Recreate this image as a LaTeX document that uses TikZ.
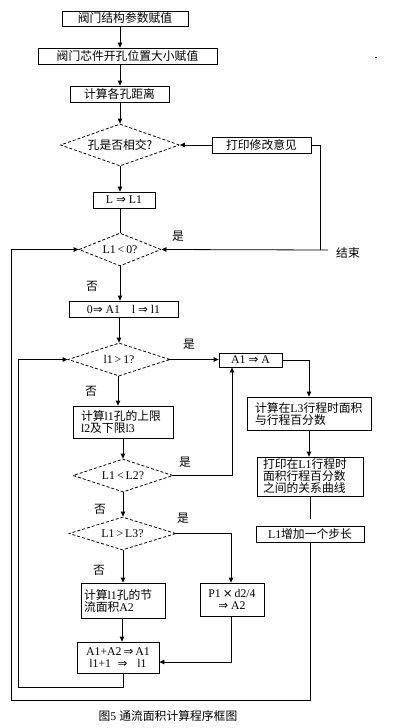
\documentclass[tikz,border=0pt]{standalone}
\usepackage{fontspec}
\setmainfont{Liberation Serif}
\newfontfamily\cjk{Noto Sans CJK SC}
\newfontfamily\symf{DejaVu Sans}
\usetikzlibrary{arrows.meta,shapes.geometric}
\newcommand\zh[1]{{\cjk #1}}
\newcommand\ar{{\symf ⇒}}
\begin{document}
\begin{tikzpicture}[x=1pt,y=-1pt,line width=0.8pt,
  txt/.style={font=\fontsize{11.8}{12}\selectfont},
  box/.style={draw,rectangle,inner sep=0pt,txt},
  lbox/.style={box,align=left,inner xsep=8pt,inner ysep=0pt},
  dia/.style={draw,diamond,dash pattern=on 3pt off 2pt,inner sep=0pt,aspect=3,txt},
  arr/.style={-{Triangle[length=5pt,width=4.5pt]}},
  lab/.style={inner sep=0pt,txt}]
\useasboundingbox (0,0) rectangle (411,728);
\fill[white] (0,0) rectangle (411,728);
% columns
\coordinate (cA) at (120,0);
\coordinate (cB) at (123,0);
% nodes
\node[box,minimum width=126pt,minimum height=15pt] (b1) at (125,18.5) {\zh{阀门结构参数赋值}};
\node[box,minimum width=179pt,minimum height=16pt] (b2) at (127.5,56) {\zh{阀门芯件开孔位置大小赋值}};
\node[box,minimum width=99pt,minimum height=16pt] (b3) at (119.5,94) {\zh{计算各孔距离}};
\node[dia,minimum width=119pt,minimum height=42pt] (d1) at (120,145) {\zh{孔是否相交?}};
\node[box,minimum width=99pt,minimum height=16pt] (pm) at (261.5,145) {\zh{打印修改意见}};
\node[box,minimum width=62pt,minimum height=16pt] (b4) at (124,200) {L \ar{} L1};
\node[dia,minimum width=82pt,minimum height=33pt] (d2) at (120,249.5) {L1\,<\,0?};
\node[lab] (end) at (348,253) {\zh{结束}};
\coordinate (endl) at (328,250);
\coordinate (j1) at (320,250);
\node[lab] (y1) at (178,236) {\zh{是}};
\node[lab] (n1) at (92,286) {\zh{否}};
\node[box,minimum width=109pt,minimum height=16pt] (b5) at (123.5,309) {0\ar{} A1\quad l \ar{} l1};
\node[dia,minimum width=102pt,minimum height=33pt] (d3) at (119,359.5) {l1\,>\,1?};
\node[lab] (y2) at (189,344) {\zh{是}};
\node[lab] (n2) at (91,391) {\zh{否}};
\node[box,minimum width=63pt,minimum height=14pt] (bA) at (250.5,360) {A1 \ar{} A};
\node[lbox,text width=84pt,minimum height=32pt] (b6) at (123,422) {\zh{计算}l1\zh{孔的上限}\\l2\zh{及下限}l3};
\node[lbox,text width=108pt,inner xsep=8pt,minimum height=33pt] (bL3) at (309,413.5) {\zh{计算在}L3\zh{行程时面积}\\\zh{与行程百分数}};
\node[lbox,text width=94pt,inner xsep=6pt,minimum height=39pt] (bP1) at (310,476.5) {\zh{打印在}L1\zh{行程时}\\\zh{面积行程百分数}\\\zh{之间的关系曲线}};
\coordinate (gap) at (310,519);
\node[box,minimum width=108pt,minimum height=16pt] (bS) at (310,534.5) {L1\zh{增加一个步长}};
\node[dia,minimum width=100pt,minimum height=33pt] (d4) at (123,475.5) {L1\,<\,L2?};
\node[lab] (y3) at (185,462) {\zh{是}};
\node[lab] (n3) at (100,509) {\zh{否}};
\node[dia,minimum width=107pt,minimum height=33pt] (d5) at (122.5,533.5) {L1\,>\,L3?};
\node[lab] (y4) at (183,518) {\zh{是}};
\node[lab] (n4) at (99,570) {\zh{否}};
\node[lbox,text width=78pt,inner xsep=3pt,minimum height=35pt] (bN) at (123,600.5) {\zh{计算}l1\zh{孔的节}\\\zh{流面积}A2};
\node[box,align=center,minimum width=64pt,minimum height=33pt] (bPd) at (232,599.5) {P1\,{\symf ×}\,d2/4\\\ar{} A2};
\node[box,align=center,minimum width=82pt,minimum height=31pt] (bSum) at (118,657.5) {A1+A2\,\ar{}\,A1\\l1+1\;\;\ar{}\;\;\;l1};
\node[lab] (cap) at (168,716) {\zh{图}5\ \zh{通流面积计算程序框图}};
\fill (375,56.5) rectangle (377,57.5);
% connectors
\draw[arr] (b1.south -| cA) -- (b2.north -| cA);
\draw[arr] (b2.south -| cA) -- (b3.north -| cA);
\draw[arr] (b3.south -| cA) -- (d1.north);
\draw[arr] (pm.west) -- (d1.east);
\draw (pm.east) -| (j1);
\draw[arr] (endl) -- (d2.east);
\draw[arr] (d1.south) -- (b4.north -| d1.south);
\draw (b4.south -| d2.north) -- (d2.north);
\draw[arr] (d2.south) -- (b5.north -| d2.south);
\draw[arr] (b5.south -| d3.north) -- (d3.north);
\draw[arr] (d3.east) -- (bA.west |- d3.east);
\draw[arr] (d3.south -| 118,0) -- (b6.north -| 118,0);
\draw[arr] (bA.east) -| (bL3.north);
\draw[arr] (bL3.south) -- (bP1.north -| bL3.south);
\draw (bP1.south) -- (gap);
\draw[arr] (bS.south) -- (310,700) -| (11,249.5) -- (d2.west);
\draw[arr] (b6.south) -- (d4.north);
\draw[arr] (d4.east) -| (bA.south -| 232,0);
\draw[arr] (d4.south) -- (d5.north -| d4.south);
\draw[arr] (d5.east) -| (bPd.north -| 231,0);
\draw[arr] (d5.south -| cB) -- (bN.north -| cB);
\draw[arr] (bN.south -| 122,0) -- (bSum.north -| 122,0);
\draw[arr] (bPd.south -| 231,0) -- (231,662) -- (bSum.east |- 0,662);
\draw[arr] (bSum.south -| cB) -- (123,687) -| (18,359.5) -- (d3.west);
\end{tikzpicture}
\end{document}
